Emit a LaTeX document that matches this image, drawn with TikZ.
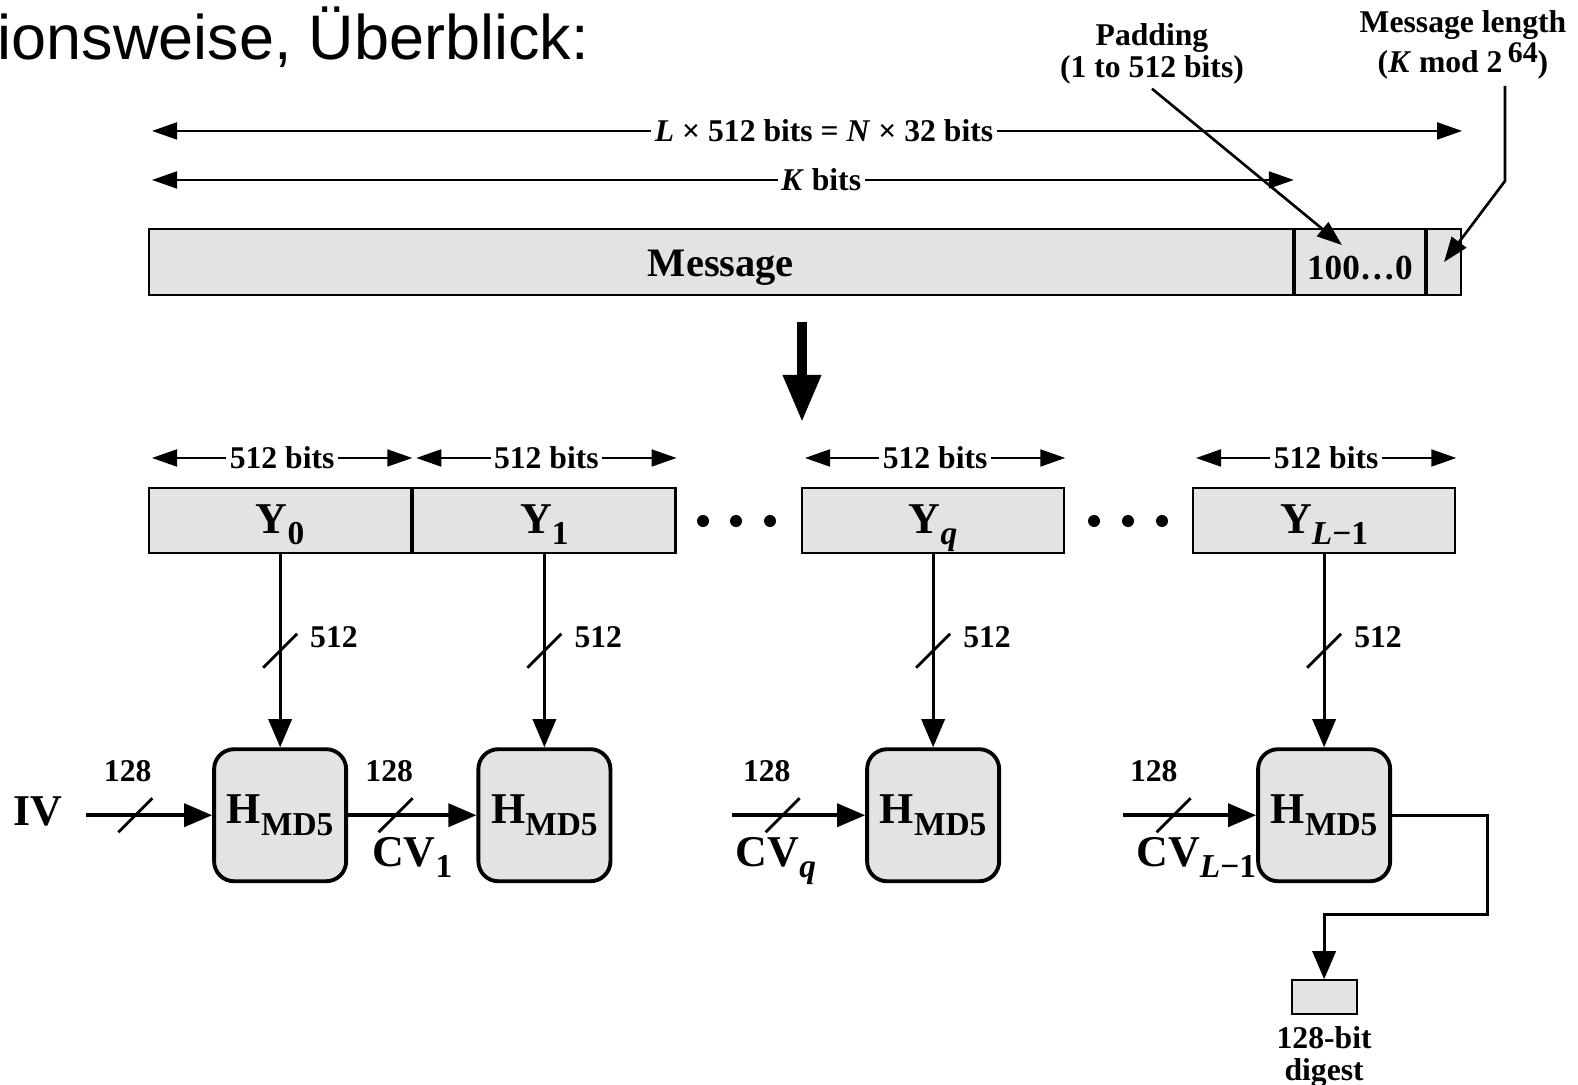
\documentclass[tikz,border=0pt]{standalone}
\usepackage{fontspec}
\setmainfont{Liberation Serif}
\newfontfamily\slidefont{Liberation Sans}
\usetikzlibrary{arrows.meta,positioning,calc}
\newcommand{\lowr}[1]{\raisebox{-0.55ex}{\fontsize{9.5}{10}\selectfont#1}}
\tikzset{
  bar/.style={draw,fill=gray!22,line width=0.6pt,inner sep=0pt,anchor=north west,font=\bfseries\fontsize{11.5}{12}\selectfont},
  blk/.style={bar,minimum width=2.62cm,minimum height=0.65cm,text depth=1pt,font=\bfseries\fontsize{12.5}{13}\selectfont},
  hmd/.style={draw,fill=gray!22,line width=1.1pt,rounded corners=0.2cm,minimum width=1.32cm,minimum height=1.32cm,inner sep=0pt,font=\bfseries\fontsize{12.5}{13}\selectfont},
  lbl/.style={font=\bfseries\fontsize{9}{9.2}\selectfont,inner sep=1pt,align=center},
  big/.style={font=\bfseries\fontsize{12.5}{13}\selectfont,inner sep=0pt},
  dimarr/.style={line width=0.55pt,{Triangle[length=2.5mm,width=1.7mm]}-{Triangle[length=2.5mm,width=1.7mm]}},
  ptr/.style={line width=0.75pt,-{Triangle[length=2.5mm,width=1.8mm]}},
  flow/.style={line width=0.9pt,-{Triangle[length=2.8mm,width=2.3mm]}},
  bus/.pic={\draw[line width=0.8pt,-](-17,17)--(17,-17);}
}
\begin{document}
\begin{tikzpicture}[x=0.01cm,y=-0.01cm]
\pgfmathsetmacro{\gap}{133}
\useasboundingbox (0,0) rectangle (1578,1085);
\node[anchor=base west,inner sep=0pt,font=\slidefont\fontsize{17.9}{20}\selectfont](title) at (-3,60){ionsweise, Überblick:};
%
\node[bar,minimum width=11.43cm,minimum height=0.66cm,text height=8pt,text depth=0pt](msg) at (148,228){Message};
\node[bar,minimum width=1.30cm,minimum height=0.66cm,anchor=west,text height=10pt,text depth=0pt,font=\bfseries\fontsize{10}{10}\selectfont](pad) at (msg.east){100\ldots0};
\node[bar,minimum width=0.34cm,minimum height=0.66cm,anchor=west](len) at (pad.east){};
\draw[dimarr]([xshift=0.04cm,yshift=0.97cm]msg.north west)--node[lbl,fill=white,pos=0.513]{\textit{L} × 512 bits = \textit{N} × 32 bits}([yshift=0.97cm]len.north east);
\draw[dimarr]([xshift=0.04cm,yshift=0.48cm]msg.north west)--node[lbl,fill=white,pos=0.586]{\textit{K} bits}([yshift=0.48cm]msg.north east);
%
\node[lbl](padnote) at (1152,54){Padding\\(1 to 512 bits)};
\node[lbl](lennote) at (1463,45){Message length\\(\textit{K} mod 2\,\raisebox{0.7ex}{\fontsize{8.5}{9}\selectfont 64})};
\draw[ptr](padnote.south)--($(pad.north)+(-18,17)$);
\coordinate(lenfoot) at (1505,86);
\draw[ptr](lenfoot)--++(0,95)--(len.center);
%
\coordinate(split) at (802,322);
\draw[line width=2.8pt,-{Triangle[length=4.7mm,width=3.6mm]}](split)--++(0,100);
%
\node[blk](Y0) at (148,487){Y\lowr{0}};
\node[blk,anchor=west](Y1) at (Y0.east){Y\lowr{1}};
\node[blk](Yq) at (801,487){Y\lowr{\textit{q}}};
\node[blk](YL) at (1192,487){Y\lowr{\textit{L}−1}};
\foreach \b in {Y0,Y1,Yq,YL}
  \draw[dimarr]([xshift=0.04cm,yshift=0.29cm]\b.north west)--node[lbl,fill=white]{512 bits}([yshift=0.29cm]\b.north east);
\foreach \x in {703,736,770,1094,1128,1162}
  \fill(\x,521) circle[radius=0.06cm];
%
\node[hmd,below=1.93cm of Y0](H0){H\lowr{MD5}};
\node[hmd,below=1.93cm of Y1](H1){H\lowr{MD5}};
\node[hmd,below=1.93cm of Yq](Hq){H\lowr{MD5}};
\node[hmd,below=1.93cm of YL](HL){H\lowr{MD5}};
\foreach \b/\h in {Y0/H0,Y1/H1,Yq/Hq,YL/HL}
  \draw[flow](\b)--pic[pos=0.5]{bus} node[lbl,pos=0.43,right=0.25cm]{512}(\h);
%
\node[big](IV) at (38,811){IV};
\draw[flow,line width=1pt]($(IV.east |- H0.west)+(23,0)$)--pic[pos=0.39]{bus} node[lbl,pos=0.33,above=0.28cm]{128}(H0.west);
\draw[flow,line width=1pt](H0.east)--pic[pos=0.37]{bus} node[lbl,pos=0.32,above=0.28cm]{128} node[big,pos=0.5,below=0.2cm]{CV\lowr{1}}(H1.west);
\draw[flow,line width=1pt]($(Hq.west)+(-\gap,0)$)--pic[pos=0.38]{bus} node[lbl,pos=0.26,above=0.28cm]{128} node[big,pos=0.33,below=0.2cm]{CV\lowr{\textit{q}}}(Hq.west);
\draw[flow,line width=1pt]($(HL.west)+(-\gap,0)$)--pic[pos=0.38]{bus} node[lbl,pos=0.23,above=0.28cm]{128} node[big,pos=0.55,below=0.2cm]{CV\lowr{\textit{L}−1}}(HL.west);
%
\node[draw,fill=gray!22,line width=0.6pt,minimum width=0.65cm,minimum height=0.34cm,inner sep=0pt,below=0.96cm of HL](digest){};
\node[lbl,below=0.07cm of digest](dlbl){128-bit\\digest};
\draw[flow](HL.east)-|++(95,99)-|(digest.north);
\end{tikzpicture}
\end{document}
